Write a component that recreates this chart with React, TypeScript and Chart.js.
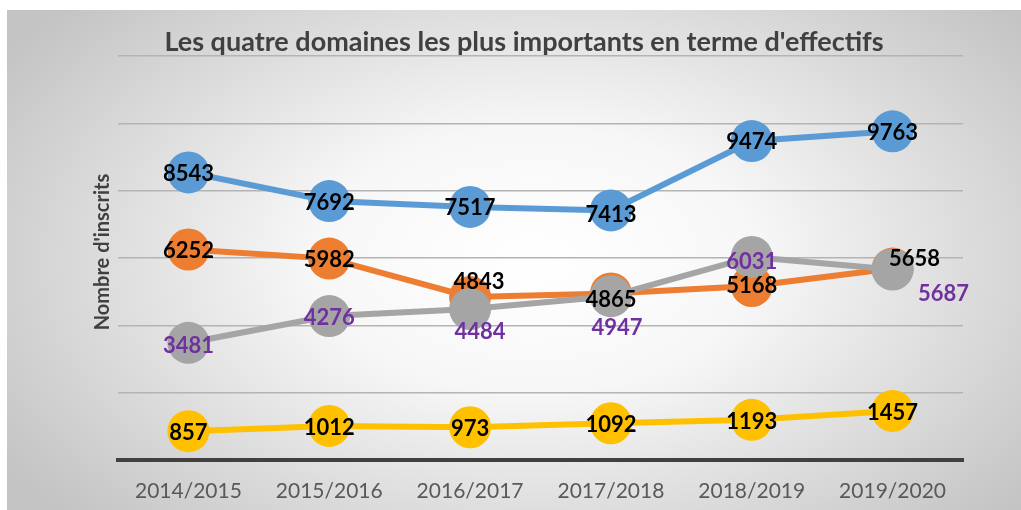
import React, { useEffect, useRef } from "react";
import { Chart, registerables } from "chart.js";

Chart.register(...registerables);

const categories = ["2014/2015", "2015/2016", "2016/2017", "2017/2018", "2018/2019", "2019/2020"];
const blueValues = [8543, 7692, 7517, 7413, 9474, 9763];
const orangeValues = [6252, 5982, 4843, 4947, 5168, 5687];
const grayValues = [3481, 4276, 4484, 4865, 6031, 5658];
const yellowValues = [857, 1012, 973, 1092, 1193, 1457];
const yMax = 12000;
const yStep = 2000;

const titleText = "Les quatre domaines les plus importants en terme d'effectifs";
const yTitleText = "Nombre d'inscrits";

const BLACK = "#000000";
const PURPLE = "#7030a0";

// label styling per point: [dx, dy, color]
const blueLabelStyle: [number, number, string][] = [
  [0, 2, BLACK], [0, 2, BLACK], [0, 1, BLACK], [0, 4, BLACK], [0, 1, BLACK], [0, 2, BLACK],
];
const orangeLabelStyle: [number, number, string][] = [
  [0, 1, BLACK], [0, 1, BLACK], [9, -15, BLACK], [6, 34, PURPLE], [0, 0, BLACK], [51, 25, PURPLE],
];
const grayLabelStyle: [number, number, string][] = [
  [0, 3, PURPLE], [0, 2, PURPLE], [10, 23, PURPLE], [0, 4, BLACK], [0, 5, PURPLE], [22, -11, BLACK],
];
const yellowLabelStyle: [number, number, string][] = [
  [0, 2, BLACK], [0, 2, BLACK], [0, 2, BLACK], [0, 2, BLACK], [0, 2, BLACK], [0, 2, BLACK],
];

const bgPlugin = {
  id: "bg",
  beforeDraw(chart: any) {
    const { ctx, width, height } = chart;
    ctx.save();
    const cx = width * 0.52;
    const cy = height * 0.5;
    const rx = width * 0.62;
    const ry = height * 0.75;
    ctx.translate(cx, cy);
    ctx.scale(rx / ry, 1);
    const g = ctx.createRadialGradient(0, 0, 0, 0, 0, ry);
    g.addColorStop(0, "#ffffff");
    g.addColorStop(0.35, "#f7f7f7");
    g.addColorStop(1, "#c4c4c4");
    ctx.fillStyle = g;
    ctx.fillRect(-cx * ry / rx - 10, -cy - 10, width * ry / rx + 20, height + 20);
    ctx.restore();

    ctx.save();
    ctx.fillStyle = "#404040";
    ctx.font = "bold 27px Lato";
    ctx.textAlign = "center";
    ctx.textBaseline = "middle";
    ctx.fillText(titleText, 517, 32);
    ctx.restore();

    ctx.save();
    ctx.fillStyle = "#404040";
    ctx.font = "bold 20px Lato";
    ctx.textAlign = "center";
    ctx.textBaseline = "middle";
    ctx.translate(96, 242);
    ctx.rotate(-Math.PI / 2);
    ctx.fillText(yTitleText, 0, 0);
    ctx.restore();
  },
};

const labelPlugin = {
  id: "pointLabels",
  afterDatasetsDraw(chart: any) {
    const { ctx } = chart;
    const styles = [blueLabelStyle, orangeLabelStyle, grayLabelStyle, yellowLabelStyle];
    ctx.save();
    ctx.font = "bold 22px Lato";
    ctx.textAlign = "center";
    ctx.textBaseline = "middle";
    chart.data.datasets.forEach((ds: any, di: number) => {
      const meta = chart.getDatasetMeta(di);
      meta.data.forEach((el: any, i: number) => {
        const st = styles[di][i];
        ctx.fillStyle = st[2];
        ctx.fillText(String(ds.data[i]), el.x + st[0], el.y + st[1]);
      });
    });
    ctx.restore();
  },
};

function mkDs(data: number[], color: string, order: number) {
  return {
    data,
    borderColor: color,
    backgroundColor: color,
    pointBackgroundColor: color,
    pointBorderWidth: 0,
    pointRadius: 21,
    pointHoverRadius: 21,
    borderWidth: 6,
    tension: 0,
    order,
  };
}

export default function App() {
  const ref = useRef<HTMLCanvasElement>(null);
  useEffect(() => {
    if (!ref.current) return;
    const chart = new Chart(ref.current, {
      type: "line",
      data: {
        labels: categories,
        datasets: [
          mkDs(blueValues, "#5b9bd5", 0),
          mkDs(orangeValues, "#ed7d31", 2),
          mkDs(grayValues, "#a5a5a5", 1),
          mkDs(yellowValues, "#ffc000", 3),
        ],
      },
      options: {
        animation: false,
        responsive: false,
        maintainAspectRatio: false,
        events: [],
        layout: { padding: { top: 46, right: 58, left: 0, bottom: 0 } },
        plugins: {
          legend: { display: false },
          title: { display: false },
          tooltip: { enabled: false },
        },
        scales: {
          x: {
            offset: true,
            grid: { display: false, drawTicks: false },
            border: { display: true, color: "#404040", width: 4 },
            ticks: {
              color: "#595959",
              font: { family: "Lato", size: 21 },
              padding: 19,
              maxRotation: 0,
            },
            afterFit(scale: any) {
              scale.height = 50;
            },
          },
          y: {
            min: 0,
            max: yMax,
            ticks: { display: false, stepSize: yStep },
            grid: { color: "#b4b4b4", lineWidth: 1.5, drawTicks: false },
            border: { display: false },
            afterFit(scale: any) {
              scale.width = 111;
            },
          },
        },
      },
      plugins: [bgPlugin, labelPlugin],
    });
    return () => chart.destroy();
  }, []);
  return (
    <div style={{ position: "fixed", left: 7, top: 10, width: 1014, height: 500 }}>
      <canvas ref={ref} width={1014} height={500} style={{ width: 1014, height: 500, display: "block" }} />
    </div>
  );
}
